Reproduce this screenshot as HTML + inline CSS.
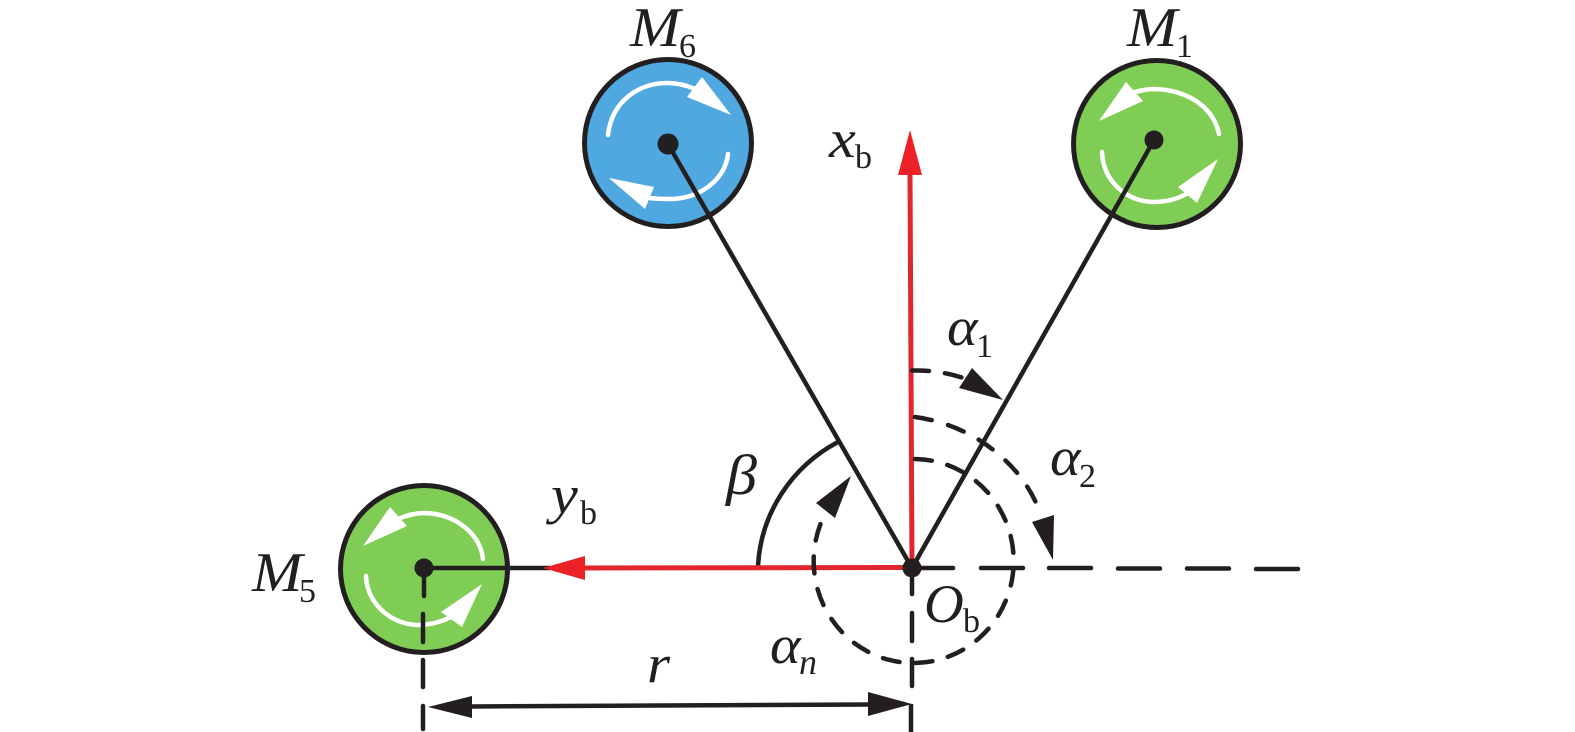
<!DOCTYPE html>
<html>
<head>
<meta charset="utf-8">
<style>
html,body{margin:0;padding:0;background:#fff;width:1575px;height:732px;overflow:hidden}
svg{display:block}
text{font-family:"Liberation Serif",serif;fill:#231f20}
.i{font-style:italic;font-size:54px}
.s{font-size:34px}
.si{font-size:36px;font-style:italic}
.w{fill:none;stroke:#fff;stroke-width:4.5;stroke-linecap:round}
.k{fill:none;stroke:#231f20;stroke-width:4.5}
.d{fill:none;stroke:#231f20;stroke-width:4.5;stroke-linecap:round}
</style>
</head>
<body>
<svg width="1575" height="732" viewBox="0 0 1575 732" xmlns="http://www.w3.org/2000/svg">
<rect width="1575" height="732" fill="#fff"/>

<!-- motors -->
<circle cx="668" cy="143" r="83.5" fill="#4fa9e0" stroke="#231f20" stroke-width="5"/>
<circle cx="1157" cy="144" r="83.5" fill="#80cd55" stroke="#231f20" stroke-width="5"/>
<circle cx="424" cy="569" r="83.5" fill="#80cd55" stroke="#231f20" stroke-width="5"/>

<!-- white arrows M6 -->
<path class="w" d="M608 135 C612 100 640 83 667 83 C678 83 686 85 695 89"/>
<polygon fill="#fff" points="731,115 702,77 687,97"/>
<path class="w" d="M728 154 C725 180 700 198 672 199 C664 199 657 199 650 198"/>
<polygon fill="#fff" points="609,178 654,187 645,209"/>

<!-- white arrows M1 -->
<path class="w" d="M1219 134 C1213 105 1185 90 1155 89 C1148 89 1142 90 1135 92"/>
<polygon fill="#fff" points="1099,121 1126,82 1143,101"/>
<path class="w" d="M1102 152 C1103 180 1125 201 1153 202 C1166 202 1178 199 1188 193"/>
<polygon fill="#fff" points="1218,159 1178,187 1197,203"/>

<!-- white arrows M5 -->
<path class="w" d="M483 559 C480 533 455 514 425 513 C415 513 407 515 398 519"/>
<polygon fill="#fff" points="363,546 390,507 407,526"/>
<path class="w" d="M366 576 C367 603 390 624 417 625 C430 625 441 622 451 617"/>
<polygon fill="#fff" points="482,584 441,612 462,627"/>

<!-- black spokes -->
<line class="k" x1="668" y1="144" x2="912" y2="568"/>
<line class="k" x1="1154" y1="140" x2="912" y2="568"/>
<line class="k" x1="424" y1="568" x2="550" y2="568"/>

<!-- beta arc -->
<path class="k" d="M758 566 A154 150 0 0 1 838 442"/>

<!-- red axes -->
<line x1="910" y1="170" x2="912" y2="568" stroke="#e2262e" stroke-width="5"/>
<polygon fill="#ed2027" points="910,130 898,175 922,175"/>
<line x1="580" y1="568" x2="912" y2="567.5" stroke="#e2262e" stroke-width="5"/>
<polygon fill="#ed2027" points="543,568 585,556 585,580"/>

<!-- dashed angle arcs -->
<path class="d" d="M912 370.5 C930 370 950 373 966 379" stroke-dasharray="17 16"/>
<polygon fill="#231f20" points="1003,400 972,368 959,388"/>
<path class="d" d="M915 417 C975 425 1020 465 1037 505" stroke-dasharray="17 17"/>
<polygon fill="#231f20" points="1053,560 1032,522 1054,515"/>
<path class="d" d="M915 459 A100 102 0 1 1 823 518" stroke-dasharray="17 16"/>
<polygon fill="#231f20" points="851,476 816,503 835,518"/>

<!-- dashed horizontal -->
<line class="d" x1="920" y1="568" x2="953" y2="568"/>
<line class="d" x1="981" y1="568" x2="1023" y2="568"/>
<line class="d" x1="1049" y1="568" x2="1091" y2="568"/>
<line class="d" x1="1118" y1="568.5" x2="1160" y2="568.5"/>
<line class="d" x1="1187" y1="568.5" x2="1229" y2="568.5"/>
<line class="d" x1="1256" y1="569" x2="1298" y2="569"/>

<!-- dashed verticals -->
<line class="d" x1="424" y1="568" x2="424" y2="596"/>
<line class="d" x1="423" y1="614" x2="423" y2="642"/>
<line class="d" x1="423" y1="660" x2="423" y2="687"/>
<line class="d" x1="423" y1="706" x2="423" y2="729"/>
<line class="d" x1="912" y1="578" x2="912" y2="594"/>
<line class="d" x1="912" y1="613" x2="912" y2="641"/>
<line class="d" x1="912" y1="659" x2="912" y2="686"/>
<line class="k" x1="911" y1="704" x2="911" y2="732"/>

<!-- dimension -->
<line class="k" x1="470" y1="706.5" x2="870" y2="704.5"/>
<polygon fill="#231f20" points="428,707 472,696 472,718"/>
<polygon fill="#231f20" points="912,704 868,692 868,716"/>

<!-- origin dots -->
<circle cx="668" cy="144" r="10.5" fill="#231f20"/>
<circle cx="1154" cy="140" r="9.5" fill="#231f20"/>
<circle cx="424" cy="568" r="9.5" fill="#231f20"/>
<circle cx="912" cy="568" r="9.5" fill="#231f20"/>

<!-- labels -->
<text class="i" transform="translate(630,46) scale(1.12,1.03)">M</text><text class="s" x="679" y="57">6</text>
<text class="i" transform="translate(1127,46) scale(1.12,1.03)">M</text><text class="s" x="1176" y="57">1</text>
<text class="i" transform="translate(252,591) scale(1.12,1.03)">M</text><text class="s" x="299" y="602">5</text>
<text class="i" transform="translate(829,157) scale(1.12,1)">x</text><text class="s" x="855" y="168">b</text>
<text class="i" transform="translate(947,345) scale(1.08,1)">α</text><text class="s" x="976" y="357">1</text>
<text class="i" transform="translate(1050,475) scale(1.08,1)">α</text><text class="s" x="1079" y="487">2</text>
<text class="i" transform="translate(551,513) scale(1.12,1)">y</text><text class="s" x="580" y="524">b</text>
<text class="i" transform="translate(726,494) scale(1.15,1.05)">β</text>
<text class="i" transform="translate(647,682) scale(1.1,1)">r</text>
<text class="i" transform="translate(770,663) scale(1.08,1)">α</text><text class="si" x="799" y="674">n</text>
<text class="i" transform="translate(924,622) scale(1.02,1)">O</text><text class="s" x="963" y="632">b</text>
</svg>
</body>
</html>
